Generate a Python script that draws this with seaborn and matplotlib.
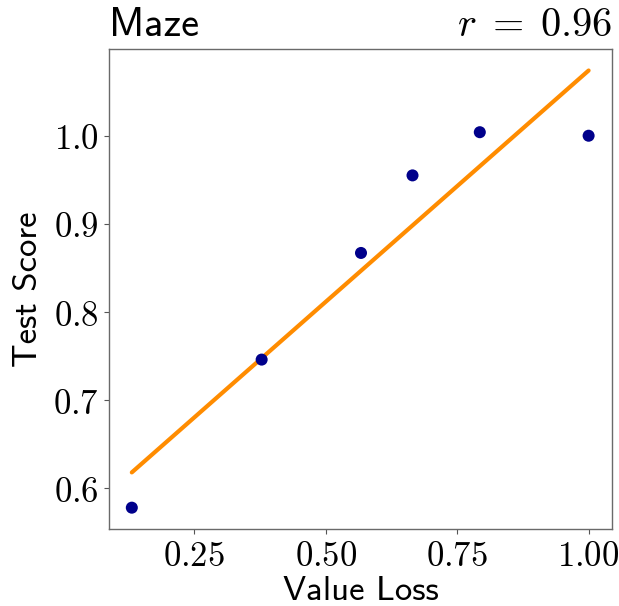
import matplotlib
matplotlib.use("Agg")
import matplotlib.pyplot as plt
import seaborn as sns
import pandas as pd

# Data
value_loss = [0.131, 0.378, 0.567, 0.665, 0.793, 1.000]
test_score = [0.578, 0.746, 0.867, 0.955, 1.004, 1.000]
x_ticks = [0.25, 0.50, 0.75, 1.00]
y_ticks = [0.6, 0.7, 0.8, 0.9, 1.0]
title_left = "Maze"
r_value = 0.96
x_label = "Value Loss"
y_label = "Test Score"

sns.set_style("white")
plt.rcParams["mathtext.fontset"] = "cm"
plt.rcParams["axes.unicode_minus"] = False
plt.rcParams["text.color"] = "black"
plt.rcParams["axes.labelcolor"] = "black"
plt.rcParams["xtick.color"] = "black"
plt.rcParams["ytick.color"] = "black"

df = pd.DataFrame({"x": value_loss, "y": test_score})

fig = plt.figure(figsize=(6.19, 6.06), dpi=100)
ax = fig.add_axes([109 / 619, 1 - 529 / 606, (612 - 109) / 619, (529 - 49) / 606])

sns.regplot(
    data=df, x="x", y="y", ax=ax, ci=None,
    scatter_kws=dict(color="#00008B", s=75, edgecolor="none", alpha=1, zorder=3),
    line_kws=dict(color="#FF8C00", lw=3.0, zorder=2),
)

ax.set_xlim(0.0876, 1.0445)
ax.set_ylim(0.5538, 1.0984)

ax.set_xticks(x_ticks)
ax.set_xticklabels([f"${v:.2f}$" for v in x_ticks])
ax.set_yticks(y_ticks)
ax.set_yticklabels([f"${v:.1f}$" for v in y_ticks])
ax.tick_params(axis="both", which="major", labelsize=25, length=3.5, width=0.8,
               color="#555555", labelcolor="black", direction="out", pad=4,
               bottom=True, left=True)

for s in ax.spines.values():
    s.set_color("#6a6a6a")
    s.set_linewidth(1.0)

ax.set_xlabel(x_label, fontsize=25, family="cmss10", labelpad=2, color="black")
ax.set_ylabel(y_label, fontsize=25, family="cmss10", labelpad=6, color="black")

ax.set_title(title_left, loc="left", fontsize=29, family="cmss10", pad=9, color="black")
ax.set_title(rf"$r\;=\;{r_value:.2f}$", loc="right", fontsize=29, pad=9, color="black")

fig.savefig("out.png", dpi=100)
